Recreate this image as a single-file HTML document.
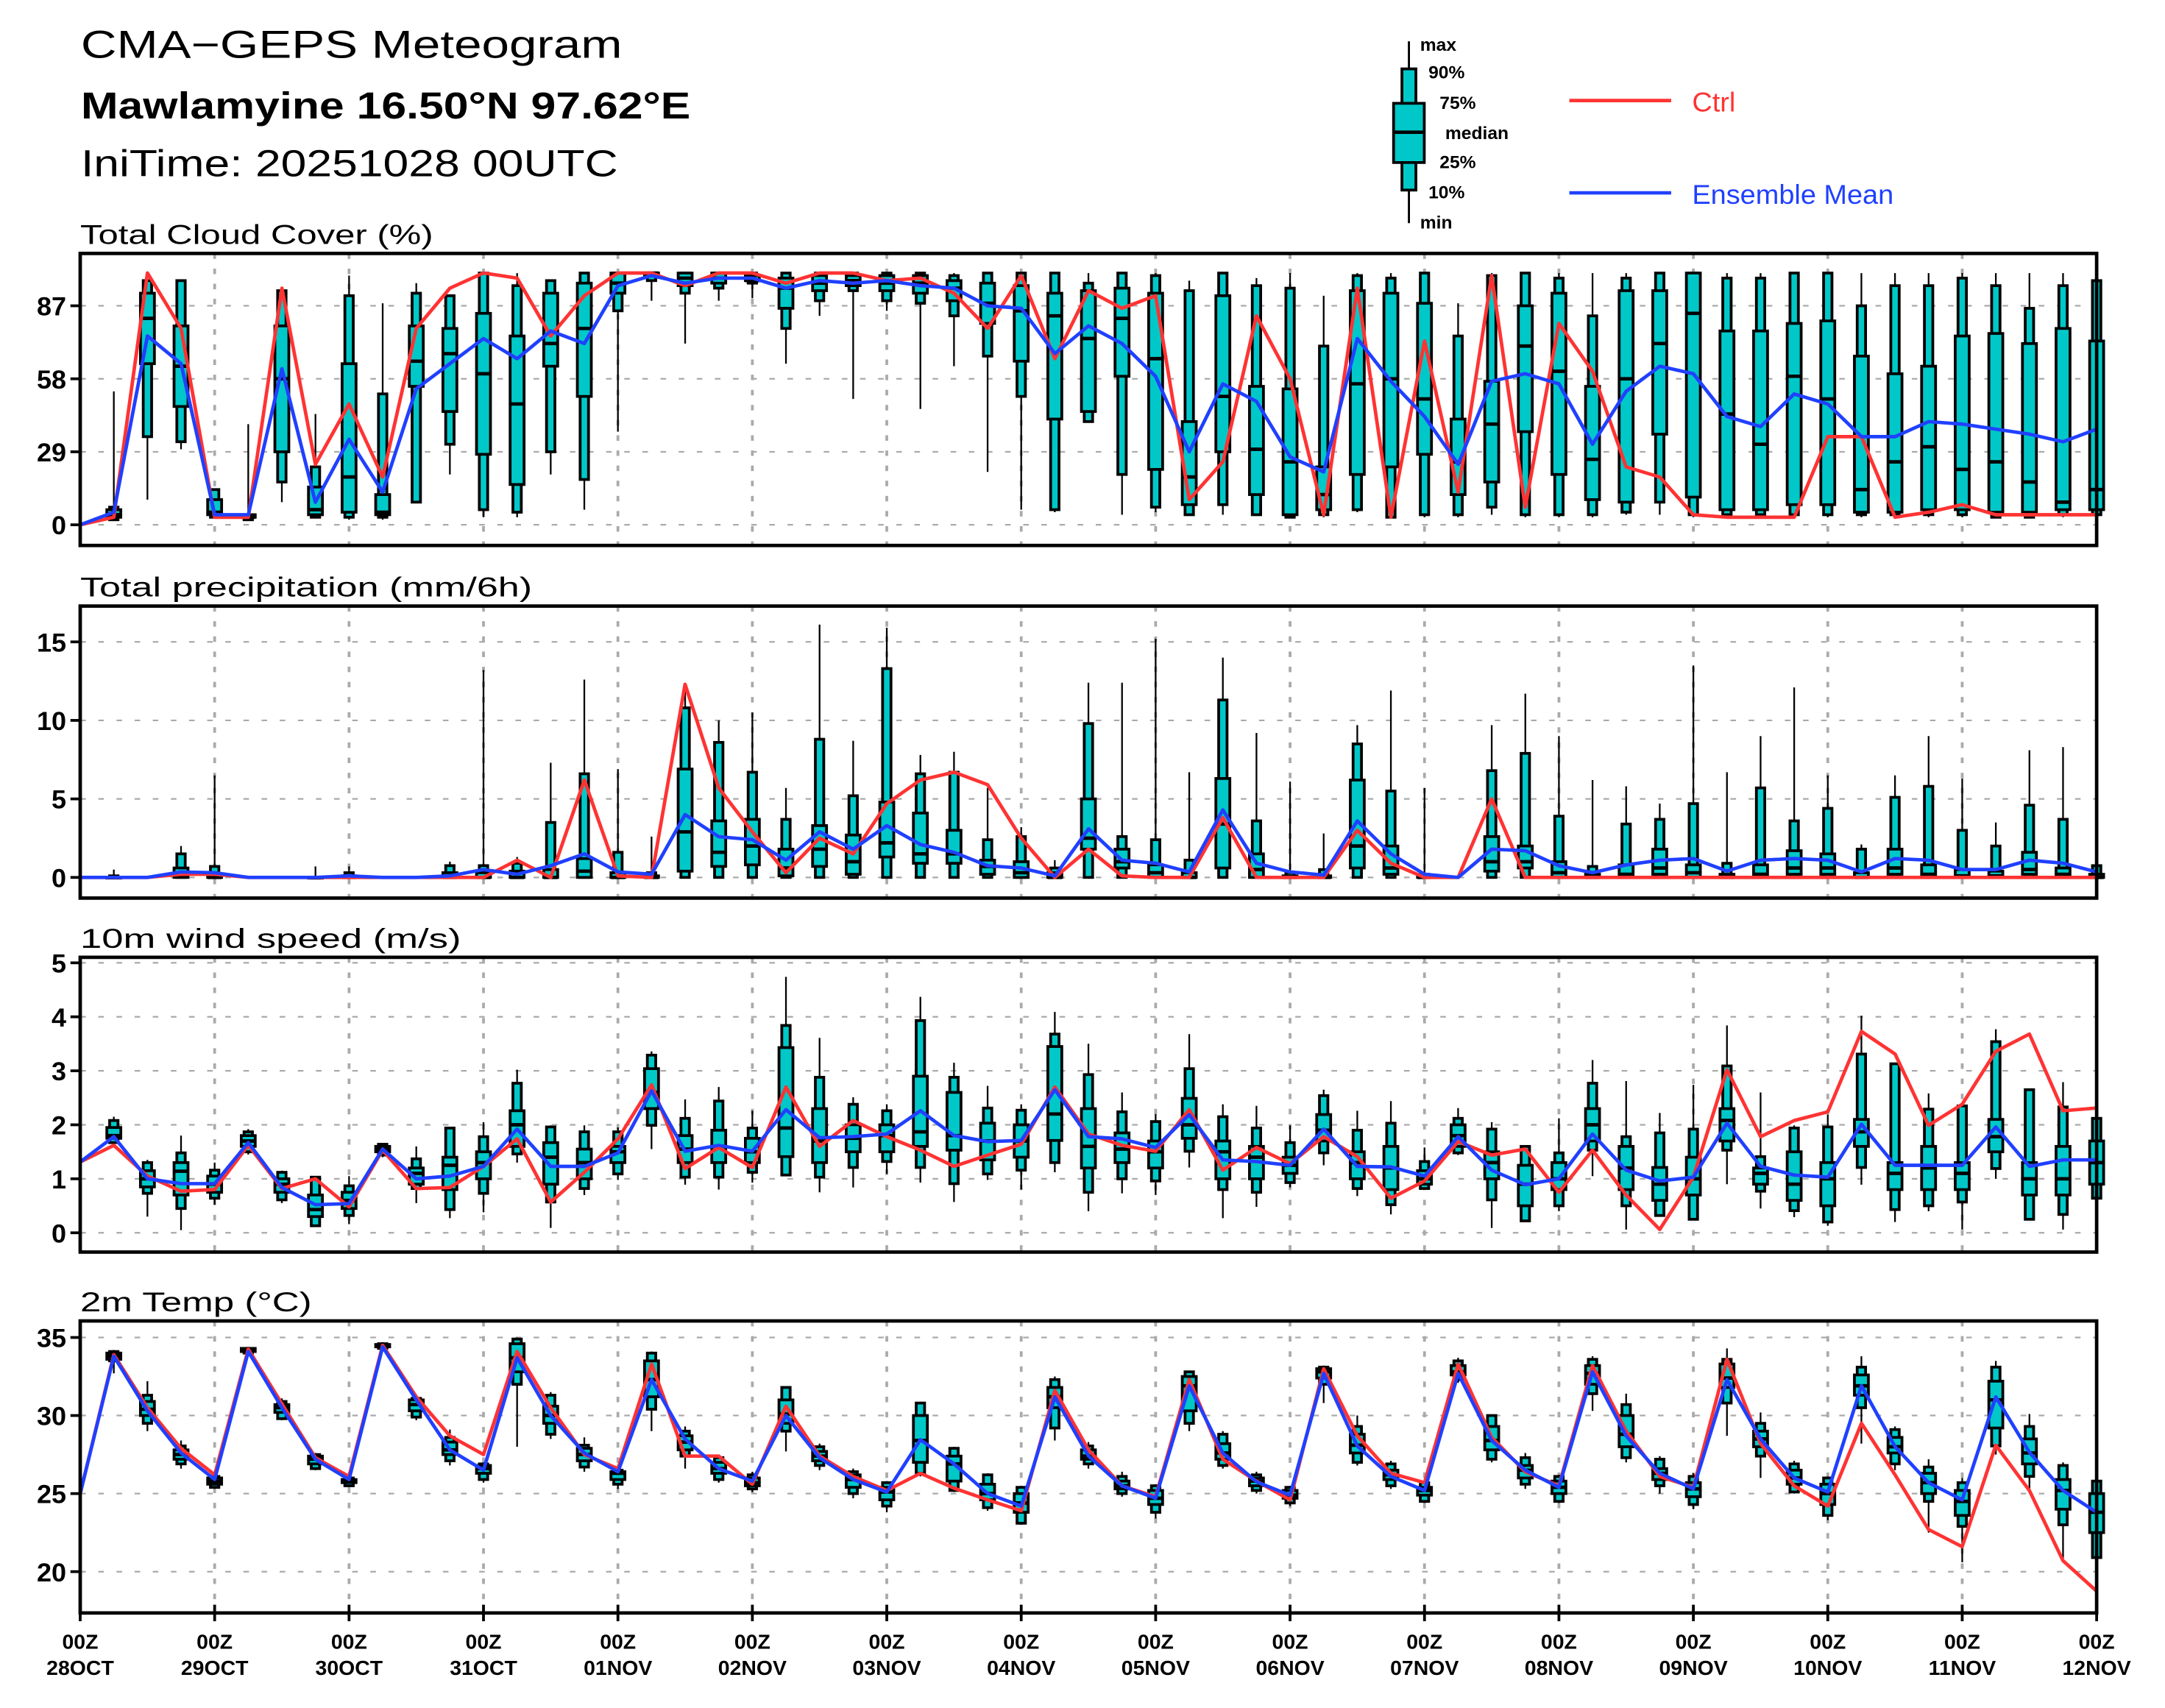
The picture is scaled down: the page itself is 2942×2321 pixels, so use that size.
<!DOCTYPE html>
<html><head><meta charset="utf-8"><title>CMA-GEPS Meteogram</title>
<style>
html,body{margin:0;padding:0;background:#fff;}
#wrap{width:2942px;height:2321px;position:relative;overflow:hidden;}
svg{display:block;}
text{font-family:"Liberation Sans",sans-serif;}
</style></head>
<body>
<div id="wrap">
<svg id="chart" width="2942" height="2321" viewBox="0 0 1552 1240" preserveAspectRatio="none" xmlns="http://www.w3.org/2000/svg">
  <text x="58" y="42" font-size="28" textLength="388" lengthAdjust="spacingAndGlyphs">CMA−GEPS Meteogram</text>
  <text x="58" y="86" font-size="27" font-weight="bold" textLength="437" lengthAdjust="spacingAndGlyphs">Mawlamyine 16.50°N 97.62°E</text>
  <text x="58" y="128" font-size="27" textLength="385" lengthAdjust="spacingAndGlyphs">IniTime: 20251028 00UTC</text>
  <g>
    <line x1="1010" y1="30" x2="1010" y2="162" stroke="#000" stroke-width="1.5"/>
    <rect x="1005" y="50" width="10" height="88" fill="#00c8c8" stroke="#000" stroke-width="2"/>
    <rect x="999" y="75" width="22" height="43" fill="#00c8c8" stroke="#000" stroke-width="2"/>
    <line x1="999" y1="96" x2="1021" y2="96" stroke="#000" stroke-width="2.5"/>
    <text x="1018" y="37" font-size="13" font-weight="bold">max</text>
    <text x="1024" y="57" font-size="13" font-weight="bold">90%</text>
    <text x="1032" y="79" font-size="13" font-weight="bold">75%</text>
    <text x="1036" y="101" font-size="13" font-weight="bold">median</text>
    <text x="1032" y="122" font-size="13" font-weight="bold">25%</text>
    <text x="1024" y="144" font-size="13" font-weight="bold">10%</text>
    <text x="1018" y="166" font-size="13" font-weight="bold">min</text>
  </g>
  <g>
    <line x1="1125" y1="73" x2="1198" y2="73" stroke="#ff3333" stroke-width="2.5"/>
    <text x="1213" y="81" font-size="20" fill="#ff3333">Ctrl</text>
  </g>
  <g>
    <line x1="1125" y1="140" x2="1198" y2="140" stroke="#2040ff" stroke-width="2.5"/>
    <text x="1213" y="148" font-size="20" fill="#2040ff">Ensemble Mean</text>
  </g>
</svg>
</div>
<script>
// ---------- shared axis data ----------
const dayLabels = ["28OCT","29OCT","30OCT","31OCT","01NOV","02NOV","03NOV","04NOV","05NOV","06NOV","07NOV","08NOV","09NOV","10NOV","11NOV","12NOV"];
const stepsPerDay = 4;

// ---------- Total cloud cover ----------
const cloudTicks = [0,29,58,87];
const cloudMin = [0,2,10,30,3,2,9,3,2,2,9,20,3,3,20,6,37,89,72,89,90,64,83,50,85,46,63,21,6,5,41,4,5,4,4,4,3,3,5,3,3,3,4,3,3,3,4,4,3,3,3,3,3,3,3,3,3,3,3,3,3];
const cloudP10 = [0,2,35,33,3,2,17,3,3,3,9,32,6,5,29,18,85,97,92,94,96,78,89,93,89,88,83,67,51,6,41,20,7,4,8,4,3,4,6,3,4,4,7,4,4,4,5,9,4,4,4,4,4,4,4,4,4,3,3,4,4];
const cloudP25 = [0,3,64,47,4,3,29,4,5,4,55,45,28,16,63,51,92,99,95,96,97,86,93,95,93,92,89,80,65,42,45,59,22,8,29,12,4,6,20,23,28,12,17,37,20,10,9,36,11,6,6,8,8,5,5,6,6,5,5,6,6];
const cloudMed = [0,4,82,63,5,3,58,6,19,5,65,68,60,48,72,78,96,100,98,98,97,94,96,97,96,96,94,88,85,83,74,82,66,19,51,30,25,12,56,58,50,25,40,71,61,26,58,72,84,44,32,59,50,14,25,31,22,25,17,9,14];
const cloudP75 = [0,6,92,79,10,4,79,15,64,12,79,78,84,75,92,96,100,100,100,100,99,98,99,99,99,99,97,96,95,92,93,94,92,41,91,55,54,23,93,92,88,42,57,87,92,55,93,93,100,77,77,80,81,67,60,63,75,76,72,78,73];
const cloudP90 = [0,7,97,97,14,4,93,23,91,52,92,91,100,95,97,100,100,100,100,100,100,100,100,100,100,100,99,100,100,100,96,100,99,93,100,95,94,71,99,98,100,75,99,100,98,83,98,100,100,98,98,100,100,87,95,95,98,95,86,95,97];
const cloudMax = [0,53,100,97,14,40,93,44,99,88,96,91,100,100,97,100,100,100,100,100,100,100,100,100,100,100,100,100,100,100,100,100,100,97,100,98,100,91,100,100,100,88,100,100,100,100,100,100,100,100,100,100,100,100,100,100,100,100,100,100,100];
const cloudCtrl = [0,3,100,78,3,3,94,24,48,19,78,94,100,98,75,91,100,100,95,100,100,96,100,100,97,98,92,78,99,66,93,86,91,10,25,83,58,4,94,3,73,13,99,7,80,61,23,19,4,3,3,3,35,35,3,5,8,4,4,4,4];
const cloudMean = [0,5,75,64,4,4,62,9,34,13,54,64,74,66,77,72,95,99,96,98,98,94,97,96,97,95,94,87,86,68,79,72,59,29,56,49,27,21,74,57,43,24,57,60,56,32,53,63,60,43,39,52,48,35,35,41,40,38,36,33,38];

// ---------- Total precipitation ----------
const precipTicks = [0,5,10,15];
const precipMin = [0,0,0,0,0,0,0,0,0,0,0,0,0,0,0,0,0,0,0,0,0,0,0,0,0,0,0,0,0,0,0,0,0,0,0,0,0,0,0,0,0,0,0,0,0,0,0,0,0,0,0,0,0,0,0,0,0,0,0,0,0];
const precipP10 = [0,0,0,0,0,0,0,0,0,0,0,0,0,0,0,0,0,0,0,0,0,0,0,0,0,0,0,0,0,0,0,0,0,0,0,0,0,0,0,0,0,0,0,0,0,0,0,0,0,0,0,0,0,0,0,0,0,0,0,0,0];
const precipP25 = [0,0,0,0,0,0,0,0,0,0,0,0,0,0,0,0,0,0,0.4,0.7,0.8,0.1,0.7,0.2,1.3,0.9,0.9,0.2,0,0,1.8,0.6,0,0,0.6,0,0,0,0.6,0.2,0,0,0.4,0.6,0,0,0,0.2,0,0,0,0.2,0.2,0,0.2,0,0,0,0.2,0,0];
const precipMed = [0,0,0,0.1,0,0,0,0,0,0,0,0,0,0,0,0.4,0,0,2.9,1.6,2,0.6,1.8,1,2.2,1.5,1.5,0.7,0.3,0,2.5,1,0.3,0,3.4,0.5,0,0,2,0.6,0,0,1,1,0.3,0,0.2,0.6,0.3,0,0.2,0.6,0.6,0,0.6,0.2,0.1,0.1,0.5,0.2,0];
const precipP75 = [0,0,0,0.6,0.2,0,0,0,0.1,0,0,0.3,0.3,0.4,0.5,1.2,0.3,0.1,6.9,3.6,3.7,1.8,3.3,2.7,4.8,4.1,3,1.1,1,0.3,5,1.8,0.8,0.3,6.3,1.5,0.1,0.1,6.2,2,0.1,0,2.6,2,1,0.2,0.8,1.8,0.8,0.2,0.8,1.7,1.5,0.3,1.8,0.8,0.5,0.4,1.6,0.6,0.2];
const precipP90 = [0,0.1,0,1.5,0.7,0,0,0,0.3,0,0,0.75,0.75,0.9,3.5,6.6,1.6,0.3,10.8,8.6,6.7,3.7,8.8,5.2,13.3,6.6,6.7,2.4,2.6,0.6,9.8,2.6,2.4,1.1,11.3,3.6,0.3,0.5,8.5,5.5,0.2,0,6.8,7.9,3.9,0.7,3.4,3.7,4.7,0.9,5.7,3.6,4.4,1.8,5.1,5.8,3,2,4.6,3.7,0.75];
const precipMax = [0,0.5,0,2,6.5,0,0,0.7,0.7,0,0,1,13.2,1.3,7.3,12.6,6.9,2.6,12.3,10,10.5,5.7,16.1,8.7,15.9,7.8,8,5.7,3.2,1.1,12.4,12.4,15.2,6.7,14,9.2,6.1,2.8,9.7,11.9,5.7,0,9.7,11.7,9,6.2,5.8,4.7,13.5,6.7,9,12.1,6.5,2.1,6.5,9,6.3,3.5,8.1,8.3,0.9];
const precipCtrl = [0,0,0,0.2,0.2,0,0,0,0,0,0,0,0,1.1,0,6.2,0.1,0,12.3,5.7,2.9,0.3,2.5,1.5,4.7,6.2,6.7,5.9,2.5,0,1.8,0.1,0,0,3.8,0,0,0,3,0.9,0,0,5,0,0,0,0,0,0,0,0,0,0,0,0,0,0,0,0,0,0];
const precipMean = [0,0,0,0.35,0.3,0,0,0,0.1,0,0,0.1,0.5,0.2,0.75,1.5,0.35,0.2,4,2.6,2.4,1.1,2.9,1.8,3.3,2.1,1.6,0.75,0.6,0.1,3.1,1.1,0.9,0.35,4.3,0.9,0.35,0.15,3.6,1.5,0.2,0,1.8,1.7,0.75,0.3,0.8,1.1,1.2,0.4,1.1,1.2,1.1,0.35,1.2,1.1,0.5,0.5,1.1,0.9,0.35];

// ---------- 10m wind speed ----------
const windTicks = [0,1,2,3,4,5];
const windMin = [1.31,1.6,0.3,0.05,0.52,1.45,0.55,0.13,0.16,1.4,0.55,0.27,0.38,1.3,0.09,0.7,0.98,1.55,0.89,0.8,0.93,1.07,0.75,0.84,1.09,0.93,0.57,0.98,0.8,1.12,0.4,0.73,0.7,1.21,0.27,0.48,0.84,1.25,0.68,0.34,0.8,1.44,0.09,0.2,0.4,1.05,0.06,0.32,0.25,0.9,0.45,0.29,0.13,0.89,0.2,0.4,0.06,1,0.25,0.06,0.6];
const windP10 = [1.31,1.67,0.73,0.45,0.64,1.5,0.61,0.13,0.32,1.44,0.82,0.43,0.73,1.46,0.57,0.82,1.09,1.99,1.03,1.03,1.12,1.07,1.03,1.21,1.32,1.21,0.91,1.09,1.16,1.3,0.75,1,0.96,1.51,0.8,0.75,0.93,1.48,0.82,0.52,0.82,1.48,0.61,0.22,0.5,1.53,0.5,0.32,0.25,1.53,0.77,0.41,0.2,1.21,0.43,0.5,0.57,1.19,0.25,0.34,0.64];
const windP25 = [1.31,1.75,0.85,0.7,0.75,1.6,0.75,0.3,0.45,1.5,0.9,0.8,1,1.6,0.9,1,1.3,2.3,1.3,1.3,1.3,1.41,1.3,1.5,1.5,1.6,1.53,1.35,1.4,1.71,1.2,1.3,1.2,1.75,1,1,1.1,1.7,1,0.8,0.9,1.6,1,0.5,0.8,1.7,0.8,0.6,0.7,1.7,0.9,0.6,0.5,1.6,0.8,0.8,0.8,1.5,0.7,0.7,0.9];
const windMed = [1.31,1.8,1,1.14,0.9,1.7,0.9,0.43,0.6,1.55,1.1,1.25,1.3,2,1.4,1.3,1.5,2.6,1.55,1.6,1.5,1.94,1.7,1.75,1.8,1.87,1.8,1.7,1.7,2.2,1.6,1.55,1.5,2,1.5,1.4,1.25,1.9,1.3,1.2,1,1.8,1.3,0.9,1,2,1.2,0.9,1,2.08,1.1,0.9,1,1.87,1.1,1.2,1.1,1.78,1,1,1.3];
const windP75 = [1.31,1.95,1.15,1.3,1.05,1.8,1,0.7,0.75,1.6,1.2,1.4,1.5,2.26,1.67,1.55,1.6,3.04,1.8,1.9,1.75,3.43,2.3,2,2,2.9,2.6,2.03,2,3.45,2.3,1.85,1.7,2.49,1.7,1.6,1.4,2.19,1.5,1.6,1.15,2,1.5,1.25,1.3,2.3,1.6,1.21,1.4,2.3,1.2,1.5,1.3,2.1,1.3,1.6,1.3,2.1,1.3,1.6,1.7];
const windP90 = [1.31,2.08,1.3,1.48,1.16,1.87,1.12,1.03,0.87,1.64,1.37,1.94,1.78,2.77,1.96,1.87,1.87,3.29,2.12,2.44,1.94,3.84,2.88,2.38,2.26,3.93,2.88,2.31,2.27,3.68,2.93,2.24,2.06,3.04,2.15,1.94,1.67,2.54,1.9,2.03,1.32,2.12,1.92,1.6,1.48,2.77,1.78,1.85,1.92,3.09,1.41,1.94,1.96,3.31,3.13,2.29,2.35,3.54,2.65,2.33,2.12];
const windMax = [1.31,2.15,1.35,1.8,1.3,1.92,1.15,1.05,1.05,1.65,1.6,1.94,2.05,3.02,1.99,1.99,1.95,3.36,2.47,2.7,2.26,4.74,3.61,2.51,2.38,4.37,3.15,2.72,2.38,4.09,3.5,2.6,2.2,3.68,2.38,2.35,1.99,2.65,2.26,2.44,1.58,2.31,2.05,1.6,2.12,3.2,2.81,2.22,2.74,3.84,2.6,1.99,2.19,4.02,3.13,2.58,2.35,3.77,2.65,2.79,2.12];
const windCtrl = [1.31,1.62,1.05,0.77,0.8,1.62,0.82,1,0.48,1.53,0.82,0.84,1.23,1.74,0.57,1.12,1.74,2.74,1.19,1.58,1.21,2.7,1.6,2.08,1.78,1.53,1.23,1.44,1.64,2.7,1.83,1.62,1.51,2.28,1.16,1.58,1.28,1.78,1.41,0.64,0.96,1.69,1.44,1.55,0.75,1.53,0.7,0.06,1.03,3.02,1.78,2.08,2.24,3.73,3.31,1.99,2.38,3.36,3.68,2.26,2.31];
const windMean = [1.31,1.78,1,0.91,0.91,1.67,0.84,0.52,0.54,1.55,1,1.05,1.23,1.92,1.23,1.23,1.48,2.63,1.51,1.62,1.51,2.28,1.76,1.78,1.83,2.26,1.8,1.69,1.71,2.65,1.78,1.74,1.58,2.19,1.35,1.32,1.25,1.92,1.23,1.22,1.05,1.78,1.16,0.89,1,1.83,1.16,0.96,1.03,2.03,1.23,1.07,1.03,2.01,1.25,1.25,1.25,1.96,1.23,1.35,1.35];

// ---------- 2m temperature ----------
const tempTicks = [20,25,30,35];
const tempMin = [25,32.7,29,26.6,25.3,33.9,29.7,26.5,25.4,34.2,29.7,26.8,25.7,28,28.5,26.4,25.3,29,26.6,25.7,25.1,27.7,26.5,24.7,23.8,26.1,25.1,23.9,23,28.4,26.6,24.8,23.4,29,26.6,25,24.2,30.8,26.8,25.3,24.4,32.1,27,25.3,24.4,30.3,27,25,24,28.7,26,25,23.3,28.2,26.5,22.5,20.6,27.5,25.3,20.7,20.9];
const tempP10 = [25,33.5,29.5,26.9,25.4,34,29.8,26.6,25.5,34.3,29.9,27.1,25.9,32,28.8,26.7,25.6,30.4,27.4,25.9,25.3,29,26.8,25,24.2,26.3,25.2,24.1,23.1,29.2,26.9,25,23.8,29.5,26.8,25.2,24.4,32,27,25.5,24.5,32.3,27.2,25.6,24.5,31.4,27.3,25.5,24.3,30.8,27.4,25.1,23.6,30.5,26.9,24.5,22.9,28.05,26.1,23,20.9];
const tempP25 = [25,33.6,30,27.2,25.6,34.1,30.2,26.9,25.7,34.4,30.3,27.5,26.3,32.8,29.5,27.1,25.9,31.2,27.8,26.3,25.5,29.5,27.1,25.4,24.6,27,25.8,24.6,23.8,30.5,27.2,25.3,24.3,30.3,27.2,25.5,24.7,32.4,27.6,25.9,24.9,32.6,27.8,26,25,32,28,25.9,24.8,31.8,28,25.6,24.3,31.3,27.6,25,23.6,29.2,26.9,24,22.5];
const tempMed = [25,33.8,30.4,27.5,25.8,34.2,30.5,27.2,25.8,34.5,30.7,27.8,26.6,33.7,30,27.5,26.3,32.3,28.3,26.6,25.7,30.1,27.4,25.9,25.1,28.4,26.9,25,24.4,31.2,27.4,25.5,24.7,31.9,27.6,25.8,24.9,32.8,28.1,26.2,25.2,32.8,28.4,26.5,25.4,32.7,28.8,26.3,25.3,32.4,28.5,26,25,31.9,28,25.7,24.5,31,27.6,25.2,23.8];
const tempP75 = [25,34,30.9,27.8,26,34.3,30.7,27.4,25.9,34.55,31,28.3,26.8,34.6,30.6,27.9,26.4,33.5,28.7,27,26,31,27.7,26.2,25.4,30,27.4,25.6,25,31.8,27.8,25.8,25.2,32.5,28.2,26,25.2,33,28.8,26.5,25.4,33.2,29.3,26.8,25.8,33.2,30,26.6,25.7,33.3,29,26.5,25.6,32.6,28.6,26.3,25.2,32.2,28.5,25.9,25];
const tempP90 = [25,34.1,31.3,28.05,26.1,34.3,30.9,27.5,26,34.6,31.1,28.6,26.9,34.9,31.3,28.1,26.5,34,29,27.3,26.2,31.8,28,26.4,25.7,30.8,27.9,26.2,25.4,32.3,28.05,26.1,25.5,32.8,28.8,26.2,25.4,33.1,29.3,26.9,25.7,33.5,30,27.3,26.1,33.6,30.7,27.2,26.1,33.6,29.5,26.9,26,33.1,29.1,26.7,25.7,33.1,29.3,26.8,25.8];
const tempMax = [25,34.2,32.2,28.4,26.3,34.4,31.1,27.6,26.1,34.7,31.2,29.1,27,35,31.5,28.6,26.8,34.1,29.3,27.5,26.4,31.8,28.2,26.6,25.8,30.8,28,26.3,25.5,32.5,28.3,26.4,25.6,32.8,29,26.4,25.5,33.2,30,27.1,25.8,33.7,30,27.6,26.2,33.8,31.4,27.4,26.3,34.3,30.2,27.1,26.1,33.8,29.3,27.2,26,33.5,30.1,27,25.9];
const tempCtrl = [25,33.9,30.5,27.9,26.2,34.25,30.75,27.3,26.1,34.5,31.2,28.7,27.5,34.1,30.5,27.5,26.6,33.3,27.4,27.4,25.6,30.6,27.4,26.1,25.2,26.3,25.35,24.6,23.9,31.6,27.8,25.5,24.8,32.3,27.2,25.8,24.6,33,28.7,26.3,25.7,33.3,28.6,26.4,25.5,33.2,29,26.1,25.4,33.6,28.2,25.5,24.2,29.5,26.2,22.7,21.6,28.1,25.2,20.7,18.75];
const tempMean = [25,33.8,30.3,27.6,25.9,34.1,30.5,27.2,25.9,34.4,31,27.8,26.5,33.7,30,27.6,26.4,32.3,28.5,26.6,25.8,30,27.3,25.9,25.1,28.45,26.9,25,24.2,31.2,27.4,25.5,24.7,31.9,27.6,25.75,24.9,32.7,28.05,26.1,25.2,32.7,28.4,26.5,25.4,32.8,28.7,26.3,25.3,32.3,28.5,26,25.1,31.9,28,25.7,24.6,31.2,27.65,25.2,23.8];

// ---------- drawing ----------
const NS = "http://www.w3.org/2000/svg";
const svg = document.getElementById("chart");
const X0 = 57.5, X1 = 1503;
function xOf(i){ return X0 + (X1 - X0) * i / ((dayLabels.length - 1) * stepsPerDay); }
function mk(tag, attrs, parent){
  const e = document.createElementNS(NS, tag);
  for (const k in attrs) e.setAttribute(k, attrs[k]);
  (parent || svg).appendChild(e);
  return e;
}
function linearScale(v0, y0, v1, y1){ return v => y0 + (v - v0) * (y1 - y0) / (v1 - v0); }

function drawPanel(key, title, titleW, top, bottom, yScale, ticks, s, isLast){
  const g = mk("g", {});
  
  
  const t = mk("text", {x: X0, y: top - 7, "font-size": 20, textLength: titleW, lengthAdjust: "spacingAndGlyphs"}, g);
  t.textContent = title;
  
  
  ticks.forEach(v => {
    const y = yScale(v);
    const gl = mk("line", {x1: X0, x2: X1, y1: y, y2: y, stroke: "#aaa", "stroke-width": 1.2, "stroke-dasharray": "4,9"}, g);
    
    
    mk("line", {x1: X0 - 7, x2: X0, y1: y, y2: y, stroke: "#000", "stroke-width": 2}, g);
    const tl = mk("text", {x: X0 - 10, y: y + 7, "font-size": 19, "font-weight": "bold", "text-anchor": "end"}, g);
    tl.textContent = String(v);
    
    
  });
  for (let d = 1; d < dayLabels.length - 1; d++){
    const x = xOf(d * stepsPerDay);
    mk("line", {x1: x, x2: x, y1: top, y2: bottom, stroke: "#aaa", "stroke-width": 2, "stroke-dasharray": "4,7"}, g);
  }
  const bg = mk("g", {}, g);
  
  
  for (let i = 0; i < s.min.length; i++){
    const x = xOf(i);
    if (s.max[i] - s.min[i] <= 0) continue;
    const w = mk("line", {x1: x, x2: x, y1: yScale(s.max[i]), y2: yScale(s.min[i]), stroke: "#000", "stroke-width": 1.2}, bg);
    
    
    const yA = yScale(s.p90[i]), yB = yScale(s.p10[i]);
    const r1 = mk("rect", {x: x - 3, y: Math.min(yA, yB), width: 6, height: Math.max(0.5, Math.abs(yB - yA)), fill: "#00c8c8", stroke: "#000", "stroke-width": 2}, bg);
    
    
    const yC = yScale(s.p75[i]), yD = yScale(s.p25[i]);
    const r2 = mk("rect", {x: x - 5, y: Math.min(yC, yD), width: 10, height: Math.max(0.5, Math.abs(yD - yC)), fill: "#00c8c8", stroke: "#000", "stroke-width": 2}, bg);
    
    
    const ym = yScale(s.med[i]);
    const m = mk("line", {x1: x - 5, x2: x + 5, y1: ym, y2: ym, stroke: "#000", "stroke-width": 2.5}, bg);
    
    
  }
  const pts = arr => arr.map((v, i) => xOf(i).toFixed(1) + "," + yScale(v).toFixed(1)).join(" ");
  const lc = mk("polyline", {points: pts(s.ctrl), fill: "none", stroke: "#ff3333", "stroke-width": 2.5, "stroke-linejoin": "round"}, g);
  
  
  const lm = mk("polyline", {points: pts(s.mean), fill: "none", stroke: "#2040ff", "stroke-width": 2.5, "stroke-linejoin": "round"}, g);
  
  
  const fr = mk("rect", {x: X0, y: top, width: X1 - X0, height: bottom - top, fill: "none", stroke: "#000", "stroke-width": 2.5}, g);
  
  
  if (isLast){
    dayLabels.forEach((lab, d) => {
      const x = xOf(d * stepsPerDay);
      mk("line", {x1: x, x2: x, y1: bottom - 6, y2: bottom + 6, stroke: "#000", "stroke-width": 2}, g);
      const a = mk("text", {x: x, y: bottom + 26, "font-size": 15, "font-weight": "bold", "text-anchor": "middle"}, g);
      a.textContent = "00Z";
      
      
      const b = mk("text", {x: x, y: bottom + 45, "font-size": 15, "font-weight": "bold", "text-anchor": "middle"}, g);
      b.textContent = lab;
      
      
    });
  }
}

drawPanel("cloud", "Total Cloud Cover (%)", 253, 184, 396, linearScale(0, 381, 87, 222), cloudTicks,
  {min: cloudMin, p10: cloudP10, p25: cloudP25, med: cloudMed, p75: cloudP75, p90: cloudP90, max: cloudMax, ctrl: cloudCtrl, mean: cloudMean}, false);
drawPanel("precip", "Total precipitation (mm/6h)", 324, 440, 652, linearScale(0, 637, 15, 466), precipTicks,
  {min: precipMin, p10: precipP10, p25: precipP25, med: precipMed, p75: precipP75, p90: precipP90, max: precipMax, ctrl: precipCtrl, mean: precipMean}, false);
drawPanel("wind", "10m wind speed (m/s)", 273, 695, 909, linearScale(0, 895, 5, 699), windTicks,
  {min: windMin, p10: windP10, p25: windP25, med: windMed, p75: windP75, p90: windP90, max: windMax, ctrl: windCtrl, mean: windMean}, false);
drawPanel("temp", "2m Temp (°C)", 166, 959, 1171, linearScale(20, 1141, 35, 971), tempTicks,
  {min: tempMin, p10: tempP10, p25: tempP25, med: tempMed, p75: tempP75, p90: tempP90, max: tempMax, ctrl: tempCtrl, mean: tempMean}, true);
</script>
</body></html>
